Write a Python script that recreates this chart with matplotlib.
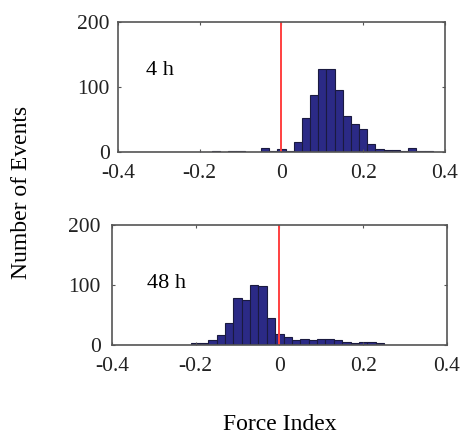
import numpy as np
import matplotlib
matplotlib.use('Agg')
import matplotlib.pyplot as plt

plt.rcParams['font.family'] = ['Liberation Serif', 'DejaVu Serif']

# Histogram bin centres (bin width 0.02)
bin_centers = np.round(np.arange(-0.38, 0.381, 0.02), 2)

# 4 h counts
counts_4h = [0, 0, 0, 0, 0, 0, 0, 0, 0, 0,
             0, 1, 0, 2, 2, 0, 0, 6, 1, 4,
             1, 15, 52, 87, 127, 127, 96, 55, 43, 36,
             13, 5, 3, 3, 2, 6, 2, 1, 0]

# 48 h counts
counts_48h = [0, 0, 0, 1, 0, 0, 0, 0, 0, 3,
              3, 8, 17, 37, 78, 75, 101, 99, 45, 18,
              14, 8, 10, 9, 10, 10, 9, 5, 3, 5,
              5, 3, 1, 0, 0, 0, 0, 0, 0]

panel_labels = ['4 h', '48 h']
xticks = [-0.4, -0.2, 0, 0.2, 0.4]
xticklabels = ['-0.4', '-0.2', '0', '0.2', '0.4']
yticks = [0, 100, 200]

bar_color = '#2b2a86'
spine_color = '#555555'

fig = plt.figure(figsize=(4.64, 4.37), dpi=100)
ax1 = fig.add_axes([0.254, 0.652, 0.705, 0.298])
ax2 = fig.add_axes([0.241, 0.210, 0.722, 0.275])

label_pos = [(-0.33, 118), (-0.315, 95)]
ypads = [6, 8]

for ax, counts, lab, pos, yp in zip([ax1, ax2], [counts_4h, counts_48h], panel_labels, label_pos, ypads):
    ax.bar(bin_centers, counts, width=0.02, color=bar_color,
           edgecolor='#1a1a40', linewidth=0.8)
    ax.axvline(0, color='#ff4040', linewidth=1.4)
    ax.set_xlim(-0.4, 0.4)
    ax.set_ylim(0, 200)
    ax.set_xticks(xticks)
    ax.set_xticklabels(xticklabels)
    ax.set_yticks(yticks)
    ax.tick_params(direction='in', length=2, width=0.8, colors=spine_color,
                   labelcolor='#222222', labelsize=15.5, top=True, right=True)
    ax.tick_params(axis='x', pad=8.5)
    ax.tick_params(axis='y', pad=yp)
    for s in ax.spines.values():
        s.set_color(spine_color)
        s.set_linewidth(1.2)
    ax.text(pos[0], pos[1], lab, fontsize=16, color='black')

fig.text(0.047, 0.56, 'Number of Events', rotation=90, fontsize=17,
         ha='center', va='center')
fig.text(0.604, 0.004, 'Force Index', fontsize=17, ha='center', va='bottom')

fig.savefig('out.png', dpi=100)
